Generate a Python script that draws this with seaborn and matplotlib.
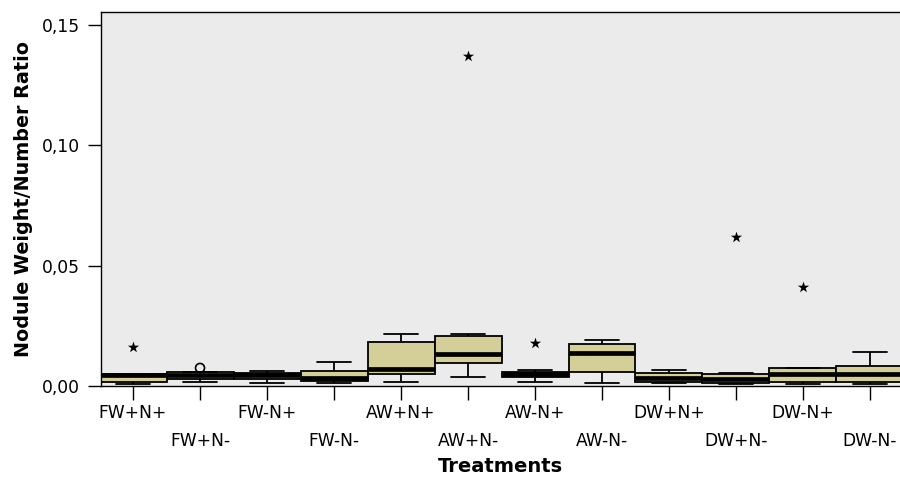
import numpy as np
import pandas as pd
import matplotlib
matplotlib.use("Agg")
import matplotlib.pyplot as plt
from matplotlib.markers import MarkerStyle
import seaborn as sns

# ---- data ----
categories = ["FW+N+", "FW+N-", "FW-N+", "FW-N-", "AW+N+", "AW+N-",
              "AW-N+", "AW-N-", "DW+N+", "DW+N-", "DW-N+", "DW-N-"]

# per treatment: min, Q1, median, Q3, max (non-outlier observations)
fw_np = [0.0010, 0.0015, 0.0045, 0.0050, 0.0050]
fw_nm = [0.0015, 0.0030, 0.0045, 0.0058, 0.0058]
fwm_np = [0.0012, 0.0029, 0.0045, 0.0056, 0.0064]
fwm_nm = [0.0012, 0.0022, 0.0035, 0.0063, 0.0099]
aw_np = [0.0017, 0.0049, 0.0071, 0.0182, 0.0215]
aw_nm = [0.0039, 0.0094, 0.0131, 0.0208, 0.0215]
awm_np = [0.0017, 0.0036, 0.0048, 0.0059, 0.0066]
awm_nm = [0.0014, 0.0059, 0.0139, 0.0174, 0.0190]
dw_np = [0.0012, 0.0018, 0.0035, 0.0053, 0.0065]
dw_nm = [0.0008, 0.0011, 0.0030, 0.0049, 0.0052]
dwm_np = [0.0008, 0.0015, 0.0048, 0.0073, 0.0073]
dwm_nm = [0.0008, 0.0015, 0.0048, 0.0082, 0.0141]

groups = [fw_np, fw_nm, fwm_np, fwm_nm, aw_np, aw_nm,
          awm_np, awm_nm, dw_np, dw_nm, dwm_np, dwm_nm]

# extreme values (stars) and outliers (circles)
extreme_cats = ["FW+N+", "AW+N-", "AW-N+", "DW+N-", "DW-N+"]
extreme_vals = [0.0162, 0.1370, 0.0177, 0.0619, 0.0411]
outlier_cats = ["FW+N-"]
outlier_vals = [0.0075]

y_ticks = [0.0, 0.05, 0.10, 0.15]
y_ticklabels = ["0,00", "0,05", "0,10", "0,15"]

df = pd.DataFrame({
    "Treatments": np.repeat(categories, [len(g) for g in groups]),
    "Ratio": np.concatenate(groups),
})

# ---- style ----
sns.set_theme(style="white")
plt.rcParams["font.family"] = ["DejaVu Sans"]
plt.rcParams["text.color"] = "black"
plt.rcParams["axes.labelcolor"] = "black"
plt.rcParams["xtick.color"] = "black"
plt.rcParams["ytick.color"] = "black"

W, H = 900, 483
fig = plt.figure(figsize=(W / 100, H / 100), dpi=100)
ax_left, ax_right, ax_top, ax_bottom = 101, 900, 12, 386
ax = fig.add_axes([ax_left / W, 1 - ax_bottom / H,
                   (ax_right - ax_left) / W, (ax_bottom - ax_top) / H])
ax.set_facecolor("#ebebeb")

box_color = "#d4cf98"
sns.boxplot(data=df, x="Treatments", y="Ratio", order=categories,
            width=1.0, whis=(0, 100), color=box_color, saturation=1,
            linecolor="black", linewidth=1.3, showfliers=False,
            medianprops=dict(linewidth=3.4, color="black"), ax=ax)

sns.stripplot(x=extreme_cats, y=extreme_vals, order=categories,
              jitter=False, marker="*", color="black", size=8.5,
              linewidth=0, ax=ax)
n_before = len(ax.collections)
sns.stripplot(x=outlier_cats, y=outlier_vals, order=categories,
              jitter=False, marker=MarkerStyle("o", fillstyle="none"),
              color="black", size=6.5, linewidth=1.2, ax=ax)
for coll in ax.collections[n_before:]:
    coll.set_facecolor("none")
    coll.set_edgecolor("black")
    coll.set_linewidth(1.2)

# ---- axes ----
ax.set_xlim(-0.478, 11.448)
ax.set_ylim(0, 0.1554)
ax.set_yticks(y_ticks)
ax.set_yticklabels(y_ticklabels, fontsize=12.3, color="black")
ax.tick_params(axis="y", left=True, length=9.5, width=1, pad=5.5,
               color="black", labelcolor="black")
ax.set_xticks(range(len(categories)))
ax.set_xticklabels(categories, fontsize=12.3, color="black")
ax.tick_params(axis="x", bottom=True, length=10, width=1, pad=3,
               color="black", labelcolor="black")
for i, tick in enumerate(ax.xaxis.get_major_ticks()):
    if i % 2 == 1:
        tick.tick1line.set_markersize(30)
        tick.set_pad(23)

for side in ["left", "top", "bottom"]:
    ax.spines[side].set_visible(True)
    ax.spines[side].set_color("black")
    ax.spines[side].set_linewidth(1)
ax.spines["right"].set_visible(False)

ax.set_xlabel("Treatments", fontsize=14, fontweight="bold", color="black")
ax.set_ylabel("Nodule Weight/Number Ratio", fontsize=13.8,
              fontweight="bold", color="black")
ax.xaxis.set_label_coords(0.5, -0.19)
ax.yaxis.set_label_coords(-0.085, 0.5)

fig.savefig("out.png", dpi=100, facecolor="white")
